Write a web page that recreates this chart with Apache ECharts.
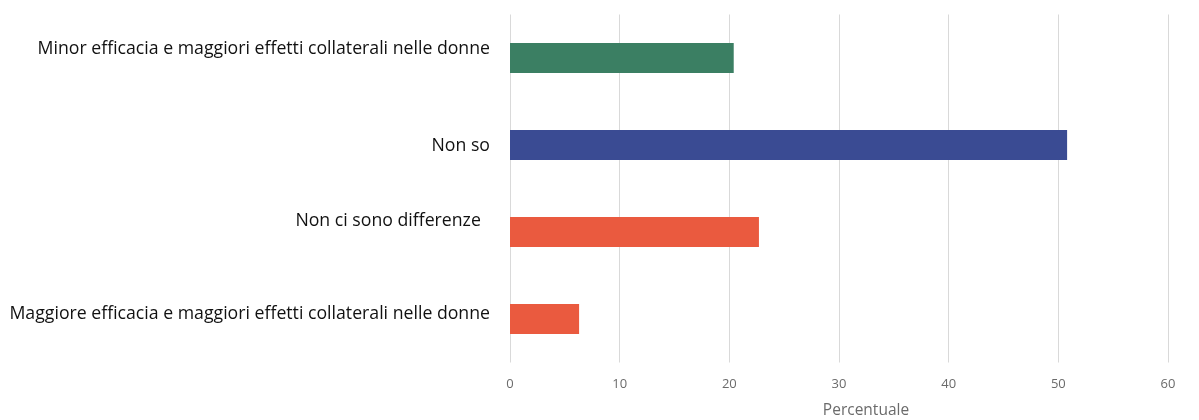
<!DOCTYPE html>
<html>
<head>
<meta charset="utf-8">
<script src="https://cdn.jsdelivr.net/npm/echarts@6/dist/echarts.min.js"></script>
<style>
  html, body { margin: 0; padding: 0; background: #ffffff; }
  #chart { width: 1199px; height: 420px; }
</style>
</head>
<body>
<div id="chart"></div>
<script>
// Answers, listed top to bottom
const categories = [
  'Minor efficacia e maggiori effetti collaterali nelle donne',
  'Non so',
  'Non ci sono differenze  ',
  'Maggiore efficacia e maggiori effetti collaterali nelle donne'
];
const values = [20.4, 50.8, 22.7, 6.3];
const barColors = ['#3b7f63', '#3a4b93', '#ea5a3f', '#ea5a3f'];
const xTicks = [0, 10, 20, 30, 40, 50, 60];

// Each category label sits a little off its bar's centre line
const labelStyles = {
  c0: { padding: [0, 0, 18, 0] },
  c1: { padding: [2, 0, 0, 0] },
  c2: { padding: [0, 0, 22, 0] },
  c3: { padding: [0, 0, 10, 0] }
};

const chart = echarts.init(document.getElementById('chart'), null, { renderer: 'canvas' });

chart.setOption({
  animation: false,
  grid: { left: 510, right: 31, top: 14.5, bottom: 57.5, containLabel: false, outerBoundsMode: 'none' },
  xAxis: {
    type: 'value',
    min: xTicks[0],
    max: xTicks[xTicks.length - 1],
    interval: 10,
    name: 'Percentuale',
    nameLocation: 'middle',
    nameGap: 40,
    nameTextStyle: { color: '#6b6b6b', fontSize: 15.5, fontFamily: 'Open Sans', padding: [0, 0, 0, 54] },
    axisLine: { show: false },
    axisTick: { show: false },
    axisLabel: { color: '#6b6b6b', fontSize: 13, fontFamily: 'Open Sans', margin: 15 },
    splitLine: { show: true, lineStyle: { color: '#d9d9d9', width: 1 } }
  },
  yAxis: {
    type: 'category',
    inverse: true,
    data: categories,
    axisLine: { show: false },
    axisTick: { show: false },
    axisLabel: {
      color: '#111111',
      fontSize: 17.7,
      fontFamily: 'Open Sans',
      margin: 20,
      formatter: (name, idx) => '{c' + idx + '|' + name + '}',
      rich: labelStyles
    },
    splitLine: { show: false }
  },
  series: [{
    type: 'bar',
    barWidth: 30,
    data: values.map((v, i) => ({ value: v, itemStyle: { color: barColors[i] } }))
  }]
});
</script>
</body>
</html>
